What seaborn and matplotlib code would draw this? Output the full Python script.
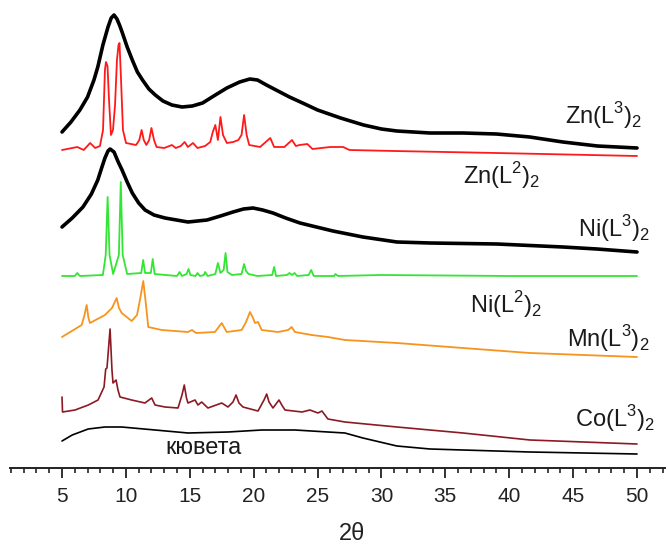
import pandas as pd
import seaborn as sns
import matplotlib.pyplot as plt

# XRD patterns, stacked (2theta, intensity a.u. with offset)
zn_l3 = [(5.0, 338), (5.7, 348), (6.4, 360), (7.0, 373), (7.5, 390), (7.8, 403), (8.2, 425),
         (8.6, 443), (8.85, 452), (9.07, 455), (9.3, 451), (9.5, 445), (9.7, 438), (10.1, 423),
         (10.5, 410), (10.9, 398), (11.3, 390), (11.8, 381), (12.3, 375), (12.9, 369), (13.6, 365),
         (14.4, 363), (15.2, 364), (16.0, 367), (17.0, 375), (17.9, 382), (18.9, 388), (19.7, 391),
         (20.3, 390), (21.0, 385), (21.9, 379), (22.8, 373), (24.0, 366), (25.0, 360), (26.8, 352),
         (28.6, 345), (30.0, 341), (31.2, 339), (33.8, 337), (36.4, 337), (39.0, 336), (41.6, 333),
         (44.2, 328), (46.9, 324), (50.0, 322)]

zn_l2 = [(5.0, 320), (6.2, 323), (6.7, 320), (7.2, 327), (7.6, 322), (7.97, 324), (8.21, 340),
         (8.36, 400), (8.44, 408), (8.56, 404), (8.68, 370), (8.83, 335), (8.99, 340), (9.15, 365),
         (9.30, 410), (9.42, 425), (9.50, 427), (9.62, 390), (9.77, 340), (10.01, 327), (10.8, 325),
         (11.05, 330), (11.23, 340), (11.4, 330), (11.6, 325), (11.82, 330), (12.0, 342), (12.2, 330),
         (12.4, 323), (13.0, 322), (13.6, 325), (13.9, 322), (14.3, 324), (14.6, 328), (14.85, 323),
         (15.25, 327), (15.6, 322), (16.2, 324), (16.6, 328), (16.8, 338), (17.0, 345), (17.2, 330),
         (17.4, 353), (17.6, 335), (17.9, 327), (18.4, 328), (18.8, 330), (19.05, 335), (19.25, 355),
         (19.45, 335), (19.65, 325), (20.5, 323), (21.3, 332), (21.6, 323), (22.4, 323), (23.0, 330),
         (23.3, 324), (23.6, 325), (24.2, 326), (24.6, 321), (26.0, 323), (27.0, 323), (27.5, 320),
         (31.0, 319), (39.0, 317), (50.0, 314)]

ni_l3 = [(5.0, 243), (5.8, 252), (6.64, 263), (7.3, 276), (7.8, 290), (8.1, 302), (8.36, 312),
         (8.6, 319), (8.76, 321), (9.07, 318), (9.4, 308), (9.7, 300), (10.1, 288), (10.5, 277),
         (11.0, 267), (11.5, 260), (12.2, 255), (13.06, 252), (14.86, 248), (16.35, 250),
         (17.4, 254), (18.38, 258), (19.2, 261), (19.95, 262), (20.7, 260), (21.51, 257),
         (22.5, 252), (23.62, 247), (26.2, 239), (28.55, 233), (31.21, 228), (33.8, 227),
         (39.04, 226), (44.2, 223), (46.86, 221), (50.0, 218)]

ni_l2 = [(5.0, 194), (6.0, 194), (6.2, 197), (6.4, 194), (8.2, 195), (8.42, 215), (8.57, 273),
         (8.72, 215), (9.0, 196), (9.45, 215), (9.6, 288), (9.75, 215), (10.1, 196), (11.2, 197),
         (11.35, 210), (11.5, 197), (11.95, 197), (12.1, 211), (12.25, 196), (14.0, 194), (14.2, 198),
         (14.4, 194), (14.75, 196), (14.9, 201), (15.05, 195), (15.45, 194), (15.6, 197), (15.8, 194),
         (16.1, 195), (16.2, 198), (16.4, 194), (17.0, 196), (17.2, 207), (17.4, 197), (17.65, 200),
         (17.8, 217), (17.95, 198), (18.3, 195), (19.05, 196), (19.25, 206), (19.4, 199), (19.6, 196),
         (20.3, 194), (21.45, 195), (21.6, 203), (21.75, 194), (22.6, 195), (22.8, 197), (23.0, 195),
         (23.2, 197), (23.4, 194), (24.3, 195), (24.5, 200), (24.7, 194), (26.3, 194), (26.4, 196),
         (26.6, 194), (30.0, 195), (40.0, 194), (50.0, 194)]

mn_l3 = [(5.0, 133), (6.54, 145), (6.76, 155), (6.93, 165), (7.07, 152), (7.19, 147), (8.36, 155),
         (8.91, 162), (9.28, 172), (9.46, 162), (9.67, 157), (10.45, 149), (10.87, 155), (11.1, 170),
         (11.36, 189), (11.53, 170), (11.75, 143), (12.8, 140), (14.86, 138), (15.17, 140),
         (15.49, 137), (16.97, 138), (17.5, 147), (17.89, 138), (19.06, 140), (19.4, 148),
         (19.71, 158), (19.95, 152), (20.1, 147), (20.34, 148), (20.63, 140), (21.9, 138), (22.7, 140),
         (22.97, 143), (23.23, 138), (24.54, 135), (25.81, 133), (27.14, 130), (31.21, 127),
         (36.38, 122), (41.62, 117), (50.0, 113)]

co_l3 = [(5.0, 73), (5.04, 58), (6.02, 60), (7.06, 65), (7.82, 70), (8.29, 83), (8.42, 101),
         (8.52, 102), (8.76, 141), (8.91, 100), (8.99, 87), (9.23, 90), (9.38, 80), (9.54, 73),
         (10.45, 70), (11.49, 67), (12.02, 72), (12.28, 65), (13.06, 63), (14.08, 62), (14.39, 75),
         (14.57, 85), (14.74, 72), (14.86, 67), (15.41, 70), (15.64, 65), (15.93, 68), (16.42, 62),
         (17.5, 67), (17.99, 63), (18.38, 68), (18.62, 75), (18.85, 67), (19.16, 63), (20.34, 59),
         (20.81, 70), (21.02, 76), (21.2, 68), (21.51, 62), (21.98, 70), (22.2, 65), (22.45, 60),
         (23.78, 58), (24.4, 60), (25.03, 57), (25.34, 59), (25.81, 51), (27.14, 48), (31.21, 43),
         (36.38, 37), (41.62, 30), (50.0, 26)]

cuvette = [(5.0, 29), (5.8, 35), (7.05, 41), (8.36, 43), (9.67, 43), (12.28, 40), (14.86, 37),
           (18.0, 38), (20.63, 40), (23.23, 40), (25.81, 38), (27.14, 37), (28.55, 32), (31.21, 24),
           (33.8, 21), (36.38, 20), (41.62, 18), (50.0, 16)]

series = [
    (zn_l3, 'black', 2.6),
    (zn_l2, '#ff1a1a', 1.3),
    (ni_l3, 'black', 2.6),
    (ni_l2, '#33e633', 1.3),
    (mn_l3, '#f7941d', 1.3),
    (co_l3, '#8b1a24', 1.2),
    (cuvette, 'black', 1.2),
]

labels = [r'Zn(L$^3$)$_2$', r'Zn(L$^2$)$_2$', r'Ni(L$^3$)$_2$', r'Ni(L$^2$)$_2$',
          r'Mn(L$^3$)$_2$', r'Co(L$^3$)$_2$', 'кювета']
label_pos = [(44.36, 346), (36.38, 286), (45.38, 233), (36.92, 157), (44.52, 123), (45.14, 43), (13.06, 16)]

sns.set_style('white')
plt.rcParams['font.family'] = ['Liberation Sans', 'DejaVu Sans']
plt.rcParams['mathtext.fontset'] = 'custom'
plt.rcParams['mathtext.rm'] = 'Liberation Sans'

fig = plt.figure(figsize=(6.68, 5.47), dpi=100)
ax = fig.add_axes([10 / 668, 1 - 468 / 547, 655 / 668, 468 / 547])

for pts, col, lw in series:
    df = pd.DataFrame(pts, columns=['2theta', 'I'])
    sns.lineplot(data=df, x='2theta', y='I', ax=ax, color=col, lw=lw, sort=False, estimator=None)

for lab, (lx, ly) in zip(labels, label_pos):
    ax.text(lx, ly, lab, fontsize=17, ha='left', va='baseline', color='#1a1a1a')

ax.set_xlim(0.93, 52.19)
ax.set_ylim(2, 470)
ax.set_xticks(range(5, 51, 5))
ax.set_xticks(range(1, 53), minor=True)
ax.tick_params(axis='x', which='both', bottom=True)
ax.tick_params(axis='x', which='major', direction='out', length=7, width=1.3, pad=7, labelsize=15,
               colors='#222222')
ax.tick_params(axis='x', which='minor', direction='out', length=3.5, width=1.2, colors='#222222')
ax.set_yticks([])
for s in ['left', 'right', 'top']:
    ax.spines[s].set_visible(False)
ax.spines['bottom'].set_linewidth(1.4)
ax.spines['bottom'].set_color('#222222')
ax.set_ylabel('')
ax.set_xlabel('2θ', fontsize=17, color='#222222')
ax.xaxis.set_label_coords(0.522, -0.118)

plt.savefig('out.png', dpi=100)
